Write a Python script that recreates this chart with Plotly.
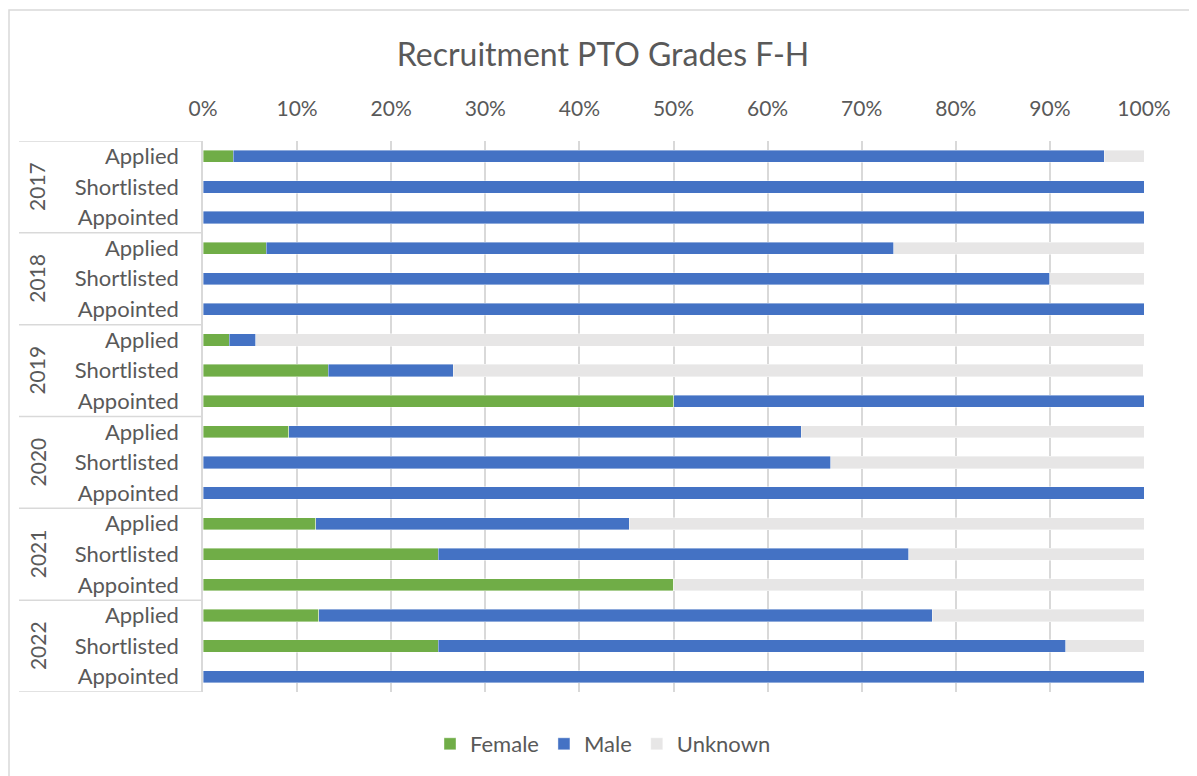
import plotly.graph_objects as go

years = ["2017", "2018", "2019", "2020", "2021", "2022"]
stages = ["Applied", "Shortlisted", "Appointed"]
female = [3.2, 0, 0, 6.7, 0, 0, 2.8, 13.3, 50, 9.1, 0, 0, 12.0, 25, 50, 12.3, 25, 0]
male = [92.6, 100, 100, 66.7, 90, 100, 2.8, 13.3, 50, 54.5, 66.7, 100, 33.3, 50, 0, 65.2, 66.7, 100]
unknown = [4.2, 0, 0, 26.7, 10, 0, 94.4, 73.3, 0, 36.4, 33.3, 0, 54.7, 25, 50, 22.5, 8.3, 0]
tick_vals = [0, 10, 20, 30, 40, 50, 60, 70, 80, 90, 100]

cats = [f"{y} {s}" for y in years for s in stages]
labels = [s for y in years for s in stages]

TXT = "#595959"
FONT = "Lato"
GRID = "#d9d9d9"

# the page body adds an 8px offset; positions below are in figure coordinates
OFF = 8
W, H = 1197, 776
L = 203 - OFF
T = 141 - OFF
R = W - (1144 - OFF)
B = H - (692 - OFF)
pw = W - L - R
ph = H - T - B

fig = go.Figure()
for name, vals, col in [("Female", female, "#70AD47"), ("Male", male, "#4472C4"), ("Unknown", unknown, "#E7E6E6")]:
    fig.add_trace(go.Bar(
        y=cats, x=vals, name=name, orientation="h",
        marker=dict(color=col, line=dict(color="rgba(255,255,255,0.5)", width=0.8)),
        width=0.4,
    ))

shapes = []
# outer chart border
shapes.append(dict(type="rect", xref="paper", yref="paper",
                   x0=(1 - L) / pw, x1=(1210 - L) / pw,
                   y0=((H - B) - 800) / ph, y1=((H - B) - (10 - OFF)) / ph,
                   line=dict(color=GRID, width=1.5), fillcolor="rgba(0,0,0,0)", layer="below"))
# group dividers in the category label area
for k in range(0, len(cats) + 1, 3):
    shapes.append(dict(type="line", xref="paper", yref="y",
                       x0=(19 - OFF - L) / pw, x1=0, y0=k - 0.5, y1=k - 0.5,
                       line=dict(color=GRID, width=1.5)))

annotations = []
for i, y in enumerate(years):
    annotations.append(dict(xref="paper", yref="y", x=(37 - OFF - L) / pw, y=cats[i * 3 + 1],
                            text=y, textangle=-90, showarrow=False,
                            font=dict(family=FONT, size=21, color=TXT),
                            xanchor="center", yanchor="middle"))

fig.update_layout(
    width=W, height=H,
    barmode="stack",
    bargap=0.6,
    paper_bgcolor="white", plot_bgcolor="white",
    margin=dict(l=L, r=R, t=T, b=B, autoexpand=False),
    title=dict(text="Recruitment PTO Grades F-H", x=(603 - OFF) / W, xref="container", xanchor="center",
               y=1 - (55 - OFF) / H, yref="container", yanchor="middle",
               font=dict(family=FONT, size=32, color=TXT)),
    font=dict(family=FONT, size=22, color=TXT),
    xaxis=dict(side="top", range=[0, 100], tickvals=tick_vals,
               ticktext=[f"{v}%" for v in tick_vals],
               showgrid=True, gridcolor=GRID, gridwidth=1.5, zeroline=False,
               showline=False, ticks="", ticklabelstandoff=20,
               tickfont=dict(family=FONT, size=21, color=TXT)),
    yaxis=dict(categoryorder="array", categoryarray=cats, tickvals=cats, ticktext=labels,
               range=[len(cats) - 0.5, -0.5], showgrid=False, zeroline=False,
               showline=True, linecolor=GRID, linewidth=1.5, ticks="",
               ticklabelstandoff=18,
               tickfont=dict(family=FONT, size=22, color=TXT)),
    legend=dict(orientation="h", xref="container", yref="container",
                x=(603 - OFF) / W, y=1 - (744 - OFF) / H,
                xanchor="center", yanchor="middle", traceorder="normal",
                font=dict(family=FONT, size=22, color=TXT)),
    shapes=shapes,
    annotations=annotations,
)

fig.write_html("out.html")
